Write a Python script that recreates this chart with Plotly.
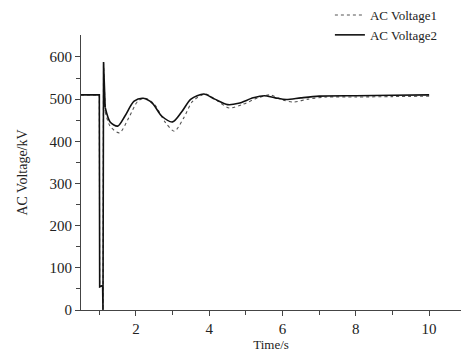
import plotly.graph_objects as go

# Fault / spike segment (drawn with straight segments)
fault_t = [0.5, 1.0, 1.01, 1.09, 1.10, 1.115, 1.16]
fault_v1 = [510, 510, 55, 58, 0, 588, 470]
fault_v2 = [510, 510, 55, 58, 0, 588, 480]

# Recovery oscillation (smoothed)
t1 = [1.16, 1.3, 1.55, 1.8, 2.05, 2.25, 2.5, 2.8, 3.05, 3.3, 3.55, 3.9, 4.2,
      4.55, 4.9, 5.3, 5.65, 6.0, 6.3, 6.7, 7.2, 8.0, 9.0, 10.0]
v1 = [470, 435, 420, 455, 495, 502, 488, 445, 424, 455, 495, 512, 497,
      479, 487, 502, 510, 498, 493, 500, 505, 505, 506, 507]

t2 = [1.16, 1.3, 1.5, 1.7, 1.95, 2.2, 2.45, 2.7, 3.0, 3.25, 3.5, 3.85, 4.15,
      4.5, 4.8, 5.2, 5.5, 5.8, 6.1, 6.5, 7.0, 8.0, 9.0, 10.0]
v2 = [480, 445, 436, 460, 495, 502, 490, 460, 446, 470, 500, 512, 500,
      487, 490, 503, 508, 503, 499, 503, 507, 508, 509, 510]

names = ["AC Voltage1", "AC Voltage2"]

fig = go.Figure()
dot_style = dict(color="#555555", width=1.1, dash="dot")
solid_style = dict(color="#111111", width=1.6)

fig.add_trace(go.Scatter(x=fault_t, y=fault_v1, mode="lines", line=dot_style,
                         legendgroup="v1", showlegend=False, hoverinfo="skip"))
fig.add_trace(go.Scatter(x=t1, y=v1, mode="lines", name=names[0],
                         line=dict(shape="spline", smoothing=0.8, **dot_style),
                         legendgroup="v1"))
fig.add_trace(go.Scatter(x=fault_t, y=fault_v2, mode="lines", line=solid_style,
                         legendgroup="v2", showlegend=False, hoverinfo="skip"))
fig.add_trace(go.Scatter(x=t2, y=v2, mode="lines", name=names[1],
                         line=dict(shape="spline", smoothing=0.8, **solid_style),
                         legendgroup="v2"))

serif = "Liberation Serif, Times New Roman, serif"
axis_common = dict(
    showline=True, linecolor="#444444", linewidth=1.2,
    ticks="outside", ticklen=5, tickwidth=1, tickcolor="#444444",
    showgrid=False, zeroline=False, mirror=False,
    tickfont=dict(family=serif, size=15, color="#222222"),
)

fig.update_layout(
    width=461, height=356,
    margin=dict(l=81, r=0, t=35, b=46, autoexpand=False),
    paper_bgcolor="white", plot_bgcolor="white",
    font=dict(family=serif, color="#222222"),
    showlegend=True,
    legend=dict(x=0.655, y=1.0, xref="paper", yref="container",
                xanchor="left", yanchor="top",
                font=dict(family=serif, size=13, color="#222222"),
                bgcolor="rgba(0,0,0,0)", tracegroupgap=0,
                itemwidth=30),
    xaxis=dict(range=[0.5, 10.87], tickvals=[2, 4, 6, 8, 10],
               minor=dict(tickvals=[1, 3, 5, 7, 9], ticks="outside", ticklen=4,
                          tickcolor="#444444"),
               title=dict(text="Time/s", font=dict(family=serif, size=13),
                          standoff=0),
               **axis_common),
    yaxis=dict(range=[0, 652], tickvals=[0, 100, 200, 300, 400, 500, 600],
               minor=dict(tickvals=[50, 150, 250, 350, 450, 550], ticks="outside",
                          ticklen=4, tickcolor="#444444"),
               title=dict(text="AC Voltage/kV", font=dict(family=serif, size=14),
                          standoff=18),
               **axis_common),
)

fig.write_html("out.html")
